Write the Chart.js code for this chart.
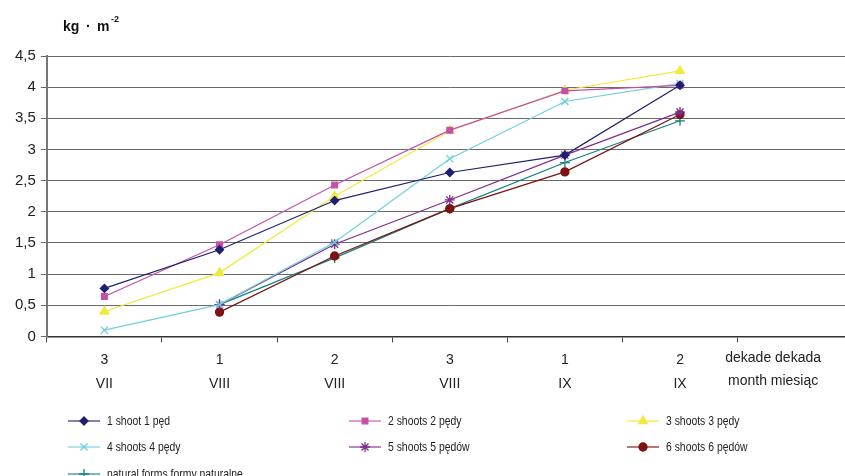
<!DOCTYPE html>
<html>
<head>
<meta charset="utf-8">
<script src="https://cdn.jsdelivr.net/npm/chart.js@4"></script>
<style>
  html, body { margin: 0; padding: 0; background: #fff; overflow: hidden; width: 845px; height: 476px; }
</style>
</head>
<body>
<canvas id="chart" width="859" height="476"></canvas>
<script>
// categories: dekade / month (last one is the axis caption)
const categories = [['3', 'VII'], ['1', 'VIII'], ['2', 'VIII'], ['3', 'VIII'], ['1', 'IX'], ['2', 'IX'], ['', '']];
const axisCaption = ['dekade dekada', 'month miesiąc'];
const seriesNames = ['1 shoot 1 pęd', '2 shoots 2 pędy', '3 shoots 3 pędy', '4 shoots 4 pędy', '5 shoots 5 pędów', '6 shoots 6 pędów', 'natural forms formy naturalne'];
const shoot1 = [0.77, 1.39, 2.18, 2.63, 2.91, 4.03, null];
const shoot2 = [0.64, 1.47, 2.43, 3.31, 3.94, 4.03, null];
const shoot3 = [0.40, 1.02, 2.25, 3.30, 3.95, 4.26, null];
const shoot4 = [0.10, 0.51, 1.51, 2.85, 3.77, 4.06, null];
const shoot5 = [null, 0.51, 1.48, 2.19, 2.91, 3.60, null];
const shoot6 = [null, 0.39, 1.29, 2.05, 2.64, 3.56, null];
const natural = [null, 0.51, 1.26, 2.05, 2.79, 3.46, null];
const yTicks = [0, 0.5, 1, 1.5, 2, 2.5, 3, 3.5, 4, 4.5];

const colors = ['#1f1f72', '#c550a8', '#f2ea3a', '#6fcfdd', '#7e2e8c', '#7c1212', '#15807f'];
const styles = ['rectRot', 'rect', 'triangle', 'crossRot', 'star', 'circle', 'cross'];
const radii = [4, 4, 5, 5, 5, 4, 5];

const allSeries = [shoot1, shoot2, shoot3, shoot4, shoot5, shoot6, natural];
const datasets = allSeries.map((vals, i) => ({
  label: seriesNames[i],
  data: vals,
  borderColor: colors[i],
  backgroundColor: colors[i],
  borderWidth: 1.2,
  pointStyle: styles[i],
  pointRadius: radii[i],
  pointBorderWidth: 1.3,
  tension: 0
}));

const FONT = 'Liberation Sans, Arial, sans-serif';

// unit label above the y axis + caption at the end of the x axis
const labels = {
  id: 'labels',
  afterDraw(chart) {
    const ctx = chart.ctx;
    ctx.save();
    ctx.fillStyle = '#111';
    ctx.textBaseline = 'alphabetic';
    ctx.font = 'bold 14px ' + FONT;
    ctx.fillText('kg', 63, 31);
    ctx.fillText('·', 86, 31);
    ctx.fillText('m', 97, 31);
    ctx.font = 'bold 9px ' + FONT;
    ctx.fillText('-2', 111, 22);

    const xs = chart.scales.x;
    const cx = xs.getPixelForValue(6) - 22;
    ctx.fillStyle = '#222';
    ctx.font = '14px ' + FONT;
    ctx.textAlign = 'center';
    ctx.textBaseline = 'middle';
    ctx.fillText(axisCaption[0], cx, 358);
    ctx.fillText(axisCaption[1], cx, 381);
    ctx.restore();
  }
};

// legend in three columns under the chart
const gridLegend = {
  id: 'gridLegend',
  afterDraw(chart) {
    const ctx = chart.ctx;
    const colX = [68, 349, 627];
    const rowY = [421, 447, 474];
    ctx.save();
    chart.data.datasets.forEach((ds, i) => {
      const x = colX[i % 3];
      const y = rowY[Math.floor(i / 3)];
      ctx.strokeStyle = ds.borderColor;
      ctx.fillStyle = ds.borderColor;
      ctx.lineWidth = 1.5;
      ctx.globalAlpha = 0.75;
      ctx.beginPath();
      ctx.moveTo(x, y);
      ctx.lineTo(x + 32, y);
      ctx.stroke();
      ctx.globalAlpha = 1;
      ctx.lineWidth = 1.3;
      Chart.helpers.drawPoint(ctx, {
        pointStyle: ds.pointStyle,
        radius: ds.pointRadius,
        rotation: 0,
        borderWidth: 1.3
      }, x + 16, y);
      // narrow-looking text: squeeze a 13px font horizontally
      ctx.save();
      ctx.translate(x + 39, y);
      ctx.scale(0.8, 1);
      ctx.fillStyle = '#222';
      ctx.font = '13px ' + FONT;
      ctx.textBaseline = 'middle';
      ctx.fillText(ds.label, 0, 0);
      ctx.restore();
    });
    ctx.restore();
  }
};

new Chart(document.getElementById('chart'), {
  type: 'line',
  data: { labels: categories, datasets: datasets },
  plugins: [labels, gridLegend],
  options: {
    responsive: false,
    animation: false,
    layout: { padding: { top: 56, left: 10, right: 0, bottom: 74 } },
    plugins: {
      legend: { display: false },
      tooltip: { enabled: false }
    },
    scales: {
      x: {
        offset: true,
        grid: { offset: true, drawOnChartArea: false, tickLength: 6, color: '#444' },
        border: { color: '#333', width: 1.5 },
        ticks: { color: '#222', font: { family: FONT, size: 14, lineHeight: 1.7 }, maxRotation: 0, autoSkip: false, padding: 6 }
      },
      y: {
        min: 0,
        max: 4.5,
        afterBuildTicks: axis => { axis.ticks = yTicks.map(v => ({ value: v })); },
        grid: { color: '#6a6a6a', tickLength: 6 },
        border: { color: '#777', width: 2 },
        ticks: {
          color: '#222',
          font: { family: FONT, size: 15 },
          padding: 5,
          callback: v => String(v).replace('.', ',')
        }
      }
    }
  }
});
</script>
</body>
</html>
